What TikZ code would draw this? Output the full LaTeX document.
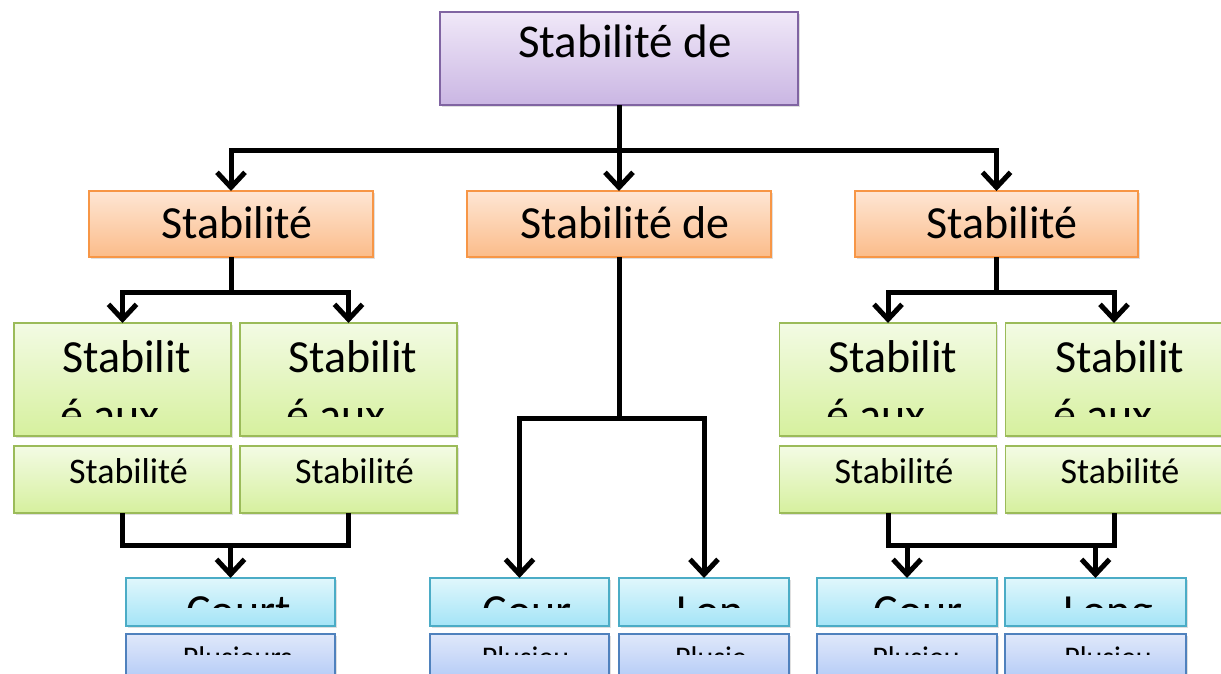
\documentclass[tikz,border=0pt]{standalone}
\usepackage{fontspec}
\setmainfont{Carlito}
\usetikzlibrary{arrows.meta,shadows}
\definecolor{pT}{RGB}{240,232,248}\definecolor{pB}{RGB}{202,182,227}\definecolor{pD}{RGB}{128,100,162}
\definecolor{oT}{RGB}{254,230,212}\definecolor{oB}{RGB}{251,188,138}\definecolor{oD}{RGB}{247,150,70}
\definecolor{gT}{RGB}{243,251,228}\definecolor{gB}{RGB}{214,240,158}\definecolor{gD}{RGB}{155,187,89}
\definecolor{cT}{RGB}{224,247,252}\definecolor{cB}{RGB}{164,228,247}\definecolor{cD}{RGB}{75,172,198}
\definecolor{bT}{RGB}{224,232,250}\definecolor{bB}{RGB}{166,194,245}\definecolor{bD}{RGB}{79,129,189}
\tikzset{
  box/.style={draw, line width=1.6pt, inner sep=0pt, outer sep=0pt,
    drop shadow={shadow xshift=1.5pt, shadow yshift=-2pt, opacity=0.25}},
  pbox/.style={box, draw=pD, top color=pT, bottom color=pB},
  obox/.style={box, draw=oD, top color=oT, bottom color=oB},
  gbox/.style={box, draw=gD, top color=gT, bottom color=gB},
  cbox/.style={box, draw=cD, top color=cT, bottom color=cB},
  bbox/.style={box, draw=bD, top color=bT, bottom color=bB},
  conn/.style={line width=5pt, black},
  arr/.style={conn, -{Straight Barb[length=15pt,width=28pt]}},
  big/.style={font=\fontsize{46}{55}\selectfont, inner sep=0pt, anchor=base},
  bigw/.style={big, anchor=base west},
  mid/.style={font=\fontsize{36}{43}\selectfont, inner sep=0pt, anchor=base},
  sml/.style={font=\fontsize{30}{36}\selectfont, inner sep=0pt, anchor=base}
}
\begin{document}
\begin{tikzpicture}[x=1pt,y=-1pt]
\useasboundingbox (0,0) rectangle (1221,673);
% boxes
\node[pbox, minimum width=358pt, minimum height=93pt] (top) at (619,58.5) {};
\node[obox, minimum width=284pt, minimum height=66pt] (o1) at (231,224) {};
\node[obox, minimum width=304pt, minimum height=66pt] (o2) at (619,224) {};
\node[obox, minimum width=283pt, minimum height=66pt] (o3) at (996.5,224) {};
\foreach \n/\x in {g1/122.5,g2/348.5,g3/888,g4/1114}{
  \node[gbox, minimum width=217pt, minimum height=113pt] (\n) at (\x,379.5) {};
}
\foreach \n/\x in {s1/122.5,s2/348.5,s3/888,s4/1114}{
  \node[gbox, minimum width=217pt, minimum height=67pt] (\n) at (\x,479.5) {};
}
\foreach \n/\x/\w in {c1/230.5/209,c2/519.5/179,c3/704/170,c4/907/180,c5/1095.5/181}{
  \node[cbox, minimum width=\w pt, minimum height=48pt] (\n) at (\x,602) {};
}
\foreach \n/\x/\w in {b1/230.5/209,b2/519.5/179,b3/704/170,b4/907/180,b5/1095.5/181}{
  \node[bbox, minimum width=\w pt, minimum height=60pt] (\n) at (\x,664) {};
}
% texts
\coordinate (clipT) at (0,89);
\coordinate (clipG) at (0,416);
\coordinate (clipC) at (0,607);
\coordinate (clipB) at (0,654);
\begin{scope}
  \clip (top.north west) rectangle (top.east |- clipT);
  \node[big, font=\fontsize{47}{56}\selectfont] (ttop) at (625,57) {Stabilité de};
\end{scope}
\node[big] (to1) at (237,238) {Stabilité};
\node[big] (to2) at (625,238) {Stabilité de};
\node[big] (to3) at (1002,238) {Stabilité};
\foreach \n/\l in {g1/62,g2/288,g3/828,g4/1055}{
  \begin{scope}
    \clip (\n.north west) rectangle (\n.east |- clipG);
    \node[bigw] (ta\n) at (\l,372) {Stabilit};
    \node[bigw] (tb\n) at (\l-2,430) {é aux};
  \end{scope}
}
\foreach \n/\x in {s1/128.5,s2/354.5,s3/894,s4/1120}{
  \node[mid] (t\n) at (\x,483) {Stabilité};
}
\foreach \n/\x/\t in {c1/238.5/Court,c2/527/Cour,c3/710/Lon,c4/918/Cour,c5/1108/Long}{
  \begin{scope}
    \clip (\n.north west) rectangle (\n.east |- clipC);
    \node[big] (t\n) at (\x,626) {\t};
  \end{scope}
}
\foreach \n/\x/\t in {b1/237.5/Plusieurs,b2/525.5/Plusieu,b3/711/Plusie,b4/916/Plusieu,b5/1108/Plusieu}{
  \begin{scope}
    \clip (\n.north west) rectangle (\n.east |- clipB);
    \node[sml] (t\n) at (\x,667) {\t};
  \end{scope}
}
% connectors
\coordinate (j0) at (619,150);
\draw[arr] (top.south) |- (o1.north |- j0) -- (o1.north);
\draw[arr] (top.south) |- (o3.north |- j0) -- (o3.north);
\draw[arr] (top.south) -- (o2.north);
\coordinate (j1) at (231,292);
\draw[arr] (o1.south) |- (g1.north |- j1) -- (g1.north);
\draw[arr] (o1.south) |- (g2.north |- j1) -- (g2.north);
\coordinate (j2) at (619,418);
\draw[arr] (o2.south) |- (c2.north |- j2) -- (c2.north);
\draw[arr] (o2.south) |- (c3.north |- j2) -- (c3.north);
\coordinate (j3) at (996.5,292);
\draw[arr] (o3.south) |- (g3.north |- j3) -- (g3.north);
\draw[arr] (o3.south) |- (g4.north |- j3) -- (g4.north);
\coordinate (j4) at (231,545);
\draw[conn] (s1.south) |- (s2.south |- j4) -- (s2.south);
\draw[arr] (c1.north |- j4) -- (c1.north);
\coordinate (j5) at (1001,545);
\draw[conn] (s3.south) |- (s4.south |- j5) -- (s4.south);
\draw[arr] (c4.north |- j5) -- (c4.north);
\draw[arr] (c5.north |- j5) -- (c5.north);
\end{tikzpicture}
\end{document}
